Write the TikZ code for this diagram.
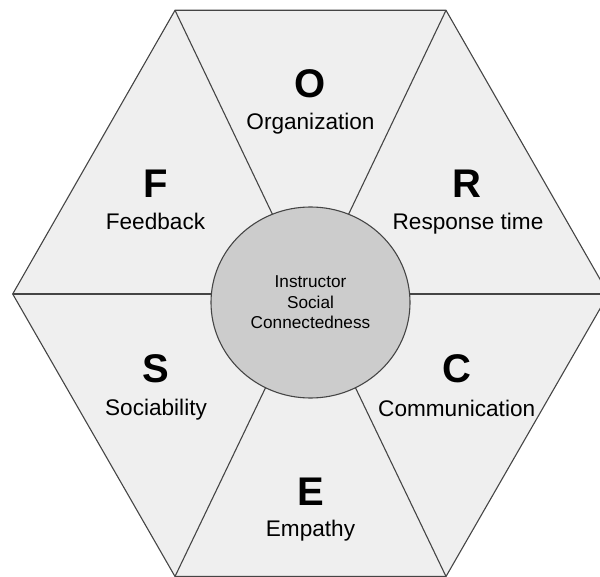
\documentclass[tikz,border=0pt]{standalone}
\usepackage{fontspec}
\setmainfont{Liberation Sans}
\usepackage{xcolor}
\usetikzlibrary{positioning, calc, shapes.geometric}

\definecolor{petal}{HTML}{EFEFEF}
\definecolor{hubgray}{HTML}{CCCCCC}
\definecolor{edgegray}{HTML}{454545}

\begin{document}
\begin{tikzpicture}[%
    x=0.5pt, y=-0.5pt,       % one unit = one pixel, y grows downwards
    line width=0.55pt,       % thin outlines
    side/.style={draw=edgegray, fill=petal},
    spoke/.style={draw=edgegray},
    hub/.style={ellipse, draw=edgegray, fill=hubgray, inner sep=0pt,
        minimum width=99.5pt, minimum height=95.5pt, align=center,
        font=\fontsize{8.6}{10.3}\selectfont},
    letter/.style={anchor=base, inner sep=0pt, font=\fontsize{20}{20}\selectfont\bfseries},
    caption/.style={anchor=base, inner sep=0pt, font=\fontsize{11.3}{12}\selectfont}
]
    \useasboundingbox (0,0) rectangle (600,577);
    \clip (0,0) rectangle (600,577);

    % ==========================================
    % 1. Hexagon corners and middle point
    % ==========================================
    \coordinate (nw) at (175, 10.3);
    \coordinate (ne) at (446, 10.3);
    \coordinate (e)  at (608.5, 294);
    \coordinate (se) at (446, 576.5);
    \coordinate (sw) at (175, 576.5);
    \coordinate (w)  at (12.7, 294);
    \coordinate (mid) at (310.5, 294);

    % ==========================================
    % 2. Hexagon and its six slices
    % ==========================================
    \draw[side] (nw) -- (ne) -- (e) -- (se) -- (sw) -- (w) -- cycle;
    \path[spoke]
        (mid) edge (nw) edge (ne) edge (e)
        (mid) edge (se) edge (sw) edge (w);

    % ==========================================
    % 3. Hub in the middle
    % ==========================================
    \node[hub] (hub) at (310.5, 302.5) {Instructor\\Social\\Connectedness};

    % ==========================================
    % 4. Letters and their words
    % ==========================================
    % --- top ---
    \node[letter]  (o) at (310.5, 97.5) {O};
    \node[caption] (organization) at (310.5, 130) {Organization};
    % --- upper left ---
    \node[letter]  (f) at (156, 198) {F};
    \node[caption] (feedback) at (155.5, 229.5) {Feedback};
    % --- upper right ---
    \node[letter]  (r) at (467, 198) {R};
    \node[caption] (response) at (468, 230) {Response time};
    % --- lower left ---
    \node[letter]  (s) at (156, 382.5) {S};
    \node[caption] (sociability) at (156, 415.5) {Sociability};
    % --- lower right ---
    \node[letter]  (c) at (457, 382.5) {C};
    \node[caption] (communication) at (456.7, 416.5) {Communication};
    % --- bottom ---
    \node[letter]  (em) at (310.5, 505) {E};
    \node[caption] (empathy) at (310.5, 536) {Empathy};

\end{tikzpicture}
\end{document}
